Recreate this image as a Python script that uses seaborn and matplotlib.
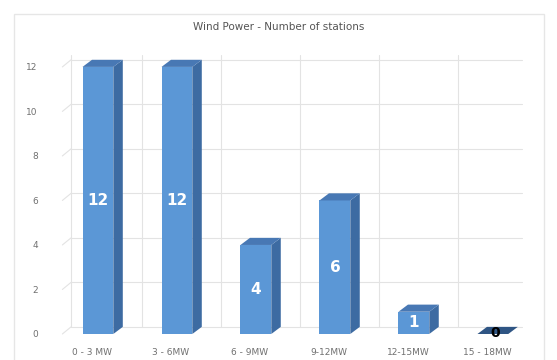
import matplotlib
matplotlib.use("Agg")
import matplotlib.pyplot as plt
import matplotlib.transforms as mtransforms
import seaborn as sns
import pandas as pd
from matplotlib.patches import Polygon, Rectangle

categories = ["0 - 3 MW", "3 - 6MW", "6 - 9MW", "9-12MW", "12-15MW", "15 - 18MW"]
stations = [12, 12, 4, 6, 1, 0]
y_ticks = [0, 2, 4, 6, 8, 10, 12]
title = "Wind Power - Number of stations"

df = pd.DataFrame({"range": categories, "stations": stations})

sns.set_theme(style="white")
plt.rcParams["font.family"] = ["DejaVu Sans"]

W, H = 557, 360
fig = plt.figure(figsize=(W / 100, H / 100), dpi=100)
fig.patch.set_facecolor("white")
# light frame around the chart area (runs past the bottom edge)
fig.add_artist(Rectangle((14 / W, -6 / H), 530 / W, 352 / H, transform=fig.transFigure,
                         fill=False, edgecolor="#e6e6e6", linewidth=1.0))

ax = fig.add_axes([60 / W, (H - 340) / H, 470 / W, 288 / H])

front = "#5b97d6"
side = "#3d6ba2"
top = "#4878b4"
grid_c = "#e3e3e3"

sns.barplot(data=df, x="range", y="stations", color=front, width=0.39,
            saturation=1, linewidth=0, ax=ax, zorder=3)

dx, dy = 0.12, 0.32  # depth offset of the pseudo-3D boxes
x_left, x_right = -0.48, 5.47
ax.set_xlim(x_left, x_right)
ax.set_ylim(-0.27, 12.67)

# back wall gridlines and left-wall connectors
wall_x = x_left + 0.14
for t in y_ticks:
    ax.plot([wall_x, x_right - 0.1], [t + dy, t + dy], color=grid_c, lw=0.8, zorder=0)
    ax.plot([x_left + 0.03, wall_x], [t, t + dy], color=grid_c, lw=0.8, zorder=0)
for k in range(len(categories)):
    xb = k + 0.5 + dx * 0.5
    ax.plot([xb, xb], [dy, 12.55], color=grid_c, lw=0.8, zorder=0)
ax.plot([wall_x, wall_x], [dy, 12.55], color=grid_c, lw=0.8, zorder=0)

# side and top faces built from each bar's geometry
for bar in list(ax.patches):
    x0 = bar.get_x()
    w = bar.get_width()
    h = bar.get_height()
    x1 = x0 + w
    ax.add_patch(Polygon([(x1, 0), (x1 + dx, dy), (x1 + dx, h + dy), (x1, h)],
                         closed=True, facecolor=side, edgecolor="none", zorder=3))
    ax.add_patch(Polygon([(x0, h), (x0 + dx, h + dy), (x1 + dx, h + dy), (x1, h)],
                         closed=True, facecolor=top if h > 0 else "#2f5584",
                         edgecolor="none", zorder=4))
    xc = x0 + w / 2
    if h > 0:
        ax.text(xc, h / 2, f"{int(h)}", ha="center", va="center", color="white",
                fontsize=11, fontweight="bold", zorder=5)
    else:
        ax.text(xc + 0.03, 0.05, f"{int(h)}", ha="center", va="center", color="black",
                fontsize=10, fontweight="bold", zorder=5)

ax.set_yticks(y_ticks)
ax.set_yticklabels([str(t) for t in y_ticks], color="#707070", fontsize=6.5)
ax.tick_params(axis="x", colors="#707070", labelsize=6.5, length=0, pad=6)
ax.tick_params(axis="y", length=0, pad=16)
shift = mtransforms.ScaledTranslation(-6 / 100, 0, fig.dpi_scale_trans)
for lbl in ax.get_xticklabels():
    lbl.set_transform(lbl.get_transform() + shift)
ax.set_xlabel("")
ax.set_ylabel("")
for s in ax.spines.values():
    s.set_visible(False)

fig.text(0.5, (H - 27) / H, title, ha="center", va="center", fontsize=7.5, color="#555555")

fig.savefig("out.png", dpi=100)
